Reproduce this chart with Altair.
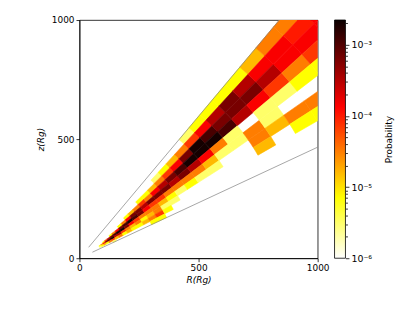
import altair as alt
import pandas as pd

N = None
# radial bin edges (R_g) and polar-angle bin edges (degrees from the z axis)
r_edges = [60, 66, 72.6, 79.9, 87.8, 96.6, 106.3, 116.9, 128.6, 141.5, 155.6, 171.2,
           188.3, 207.1, 227.8, 250.6, 275.7, 303.3, 333.6, 366.9, 403.6, 444.0,
           488.4, 537.2, 590.9, 650.0, 715.0, 786.5, 865.2, 951.7, 1046.9, 1151.6,
           1266.7, 1393.4, 1532.7]
theta_edges_deg = [40, 42.5, 45, 47.5, 50, 52.5, 55, 57.5, 60, 62.5, 65]

# log10(probability) per radial bin, one list per angular band (None = empty)
lv_b0 = [N]*25 + [-5.5, -5.15, -5.15, -5.15, -5.15, -4.8, -4.5, -4.5, -4.5]
lv_b1 = [N]*21 + [-5.5, -5.15, -4.8, -4.5, -4.15, -3.85, -3.5, -3.2, -3.5, -3.85, -3.85, -4.0, -3.85]
lv_b2 = [N]*18 + [-5.15, -5.15, -4.8, -4.5, -4.15, -3.85, -3.2, -2.7, -2.95, -3.2, -3.2, -3.2, -3.5, -3.85, -3.85, -3.85]
lv_b3 = [N]*15 + [-5.15, -4.8, -4.5, -4.15, -4.5, -3.85, -3.5, -3.2, -2.95, -2.7, -2.7, -2.7, -2.95, -3.5, -3.85, -4.15, -4.5, -4.15, -4.5]
lv_b4 = [N]*13 + [-5.15, -4.5, -3.85, -3.2, -3.2, -3.5, -3.2, -3.2, -3.2, -3.5, -3.2, -3.5, -3.85, -4.5, -5.5, N, -5.5, -5.5, -5.15, -5.15, N]
lv_b5 = [N]*10 + [-5.15, -4.5, -3.85, -3.2, -2.95, -2.7, -2.95, -3.2, -3.85, -4.15, -4.15, -4.5, -4.5, -4.5, -4.5, -4.8, -5.5, -5.5, -4.5, -5.5, N, N, N, N]
lv_b6 = [N]*7 + [-5.15, -4.15, -3.5, -3.2, -2.95, -2.7, -2.7, -3.2, -3.85, -4.15, -4.5, -4.5, -4.5, -4.8, -5.15, -5.5, -5.15, -5.5, -5.5, N, N, -4.5, -4.8, -4.5, -4.5, N, N]
lv_b7 = [N]*5 + [-5.15, -4.5, -3.85, -3.2, -2.95, -2.7, -3.5, -3.5, -4.15, -4.5, -4.8, -4.5, -5.15, -4.8, -4.5, -5.5, -5.5, N, N, N, N, N, N, -4.8, N, -5.15, -5.15, N, N]
lv_b8 = [N]*5 + [-5.5, -5.15, -4.8, -5.15, -4.5, -4.15, -4.8, -4.5, -5.15, -4.8, -5.15, -5.15, -4.8, -4.5, -4.15, -5.15] + [N]*13
lv_b9 = [N]*10 + [-5.5] + [N]*7 + [-5.15, -5.15] + [N]*14
bands = [lv_b0, lv_b1, lv_b2, lv_b3, lv_b4, lv_b5, lv_b6, lv_b7, lv_b8, lv_b9]

rows = []
for b, lv in enumerate(bands):
    for k, v in enumerate(lv):
        if v is None:
            continue
        rows.append({"r0": r_edges[k], "r1": r_edges[k + 1],
                     "t0": theta_edges_deg[b], "t1": theta_edges_deg[b + 1],
                     "p": 10 ** v})
cells = pd.DataFrame(rows)

# guide lines (polar angle, radial extent)
line_angle_deg = [40, 40, 65, 65]
line_r = [60, 1600, 60, 1600]
guides = pd.DataFrame({"ang": line_angle_deg, "r": line_r})

# colorbar
cb_lo, cb_hi = 1e-6, 2.23e-3
cb_ticks = [1e-6, 2e-6, 3e-6, 4e-6, 5e-6, 6e-6, 7e-6, 8e-6, 9e-6,
            1e-5, 2e-5, 3e-5, 4e-5, 5e-5, 6e-5, 7e-5, 8e-5, 9e-5,
            1e-4, 2e-4, 3e-4, 4e-4, 5e-4, 6e-4, 7e-4, 8e-4, 9e-4,
            1e-3, 2e-3]

W = 240
H = 240
FONT = "DejaVu Sans"

color_scale = alt.Scale(type="log",
                        domain=[1e-6, 7.09e-6, 1.337e-4, cb_hi],
                        range=["#ffffff", "#ffff00", "#ff0000", "#0b0000"],
                        interpolate="rgb")

arcs = alt.Chart(cells).transform_calculate(
    a0="datum.t0*PI/180", a1="datum.t1*PI/180"
).mark_arc(clip=True, strokeWidth=0.6).encode(
    x=alt.value(0),
    y=alt.value(H),
    theta=alt.Theta("a0:Q", scale=None, stack=False),
    theta2="a1:Q",
    radius=alt.Radius("r0:Q", scale=alt.Scale(type="linear", domain=[0, 1000], range=[0, W]), stack=False),
    radius2="r1:Q",
    color=alt.Color("p:Q", scale=color_scale, legend=None),
    stroke=alt.Stroke("p:Q", scale=color_scale, legend=None),
)

lines = alt.Chart(guides).transform_calculate(
    R="datum.r*sin(datum.ang*PI/180)", Z="datum.r*cos(datum.ang*PI/180)"
).mark_line(clip=True, color="#808080", strokeWidth=0.7).encode(
    x=alt.X("R:Q", scale=alt.Scale(domain=[0, 1000], nice=False, zero=False),
            axis=alt.Axis(values=[0, 500, 1000], title="R(Rg)", labelFlush=False, format="d",
                          titleFontStyle="italic", titlePadding=3)),
    y=alt.Y("Z:Q", scale=alt.Scale(domain=[0, 1000], nice=False, zero=False),
            axis=alt.Axis(values=[0, 500, 1000], title="z(Rg)", format="d",
                          titleFontStyle="italic", titlePadding=6)),
    detail="ang:N",
    order="r:Q",
)

is_major = "abs(log(datum.value)/LN10 - round(log(datum.value)/LN10)) < 0.01"
cb_labels = ("!(" + is_major + ") ? '' : "
             "round(log(datum.value)/LN10) == -6 ? '10⁻⁶' : "
             "round(log(datum.value)/LN10) == -5 ? '10⁻⁵' : "
             "round(log(datum.value)/LN10) == -4 ? '10⁻⁴' : '10⁻³'")

gradient = {"gradient": "linear", "x1": 0, "y1": 1, "x2": 0, "y2": 0,
            "stops": [{"offset": 0, "color": "#ffffff"},
                      {"offset": 0.254, "color": "#ffff00"},
                      {"offset": 0.635, "color": "#ff0000"},
                      {"offset": 1, "color": "#0b0000"}]}

colorbar = alt.Chart(pd.DataFrame({"lo": [cb_lo], "hi": [cb_hi]})).mark_rect(
    fill=gradient, stroke="black", strokeWidth=0.8
).encode(
    x=alt.value(W + 17), x2=alt.value(W + 28),
    y=alt.Y("lo:Q", scale=alt.Scale(type="log", domain=[cb_lo, cb_hi], nice=False),
            axis=alt.Axis(orient="right", offset=28, values=cb_ticks, labelExpr=cb_labels,
                          labelOverlap=False, domain=False, title="Probability",
                          titleAngle=270, titlePadding=22, labelPadding=2, labelFontSize=9.5,
                          tickSize={"condition": {"test": is_major, "value": 3.5}, "value": 2})),
    y2="hi:Q",
)

chart = alt.layer(arcs, lines, colorbar).resolve_scale(
    y="independent"
).resolve_axis(y="independent").properties(
    width=W, height=H,
    autosize=alt.AutoSizeParams(type="none"),
    padding={"left": 72, "top": 11, "right": 90, "bottom": 45},
).configure_view(
    stroke="black", strokeWidth=0.8
).configure_axis(
    grid=False, labelFont=FONT, titleFont=FONT, labelFontSize=9, titleFontSize=9,
    labelColor="black", titleColor="black", tickColor="black", domainColor="black",
    tickWidth=0.8, domainWidth=0.8, tickSize=3.5, titleFontWeight="normal",
)

chart.save("out.html", embed_options={"renderer": "svg", "actions": False})
